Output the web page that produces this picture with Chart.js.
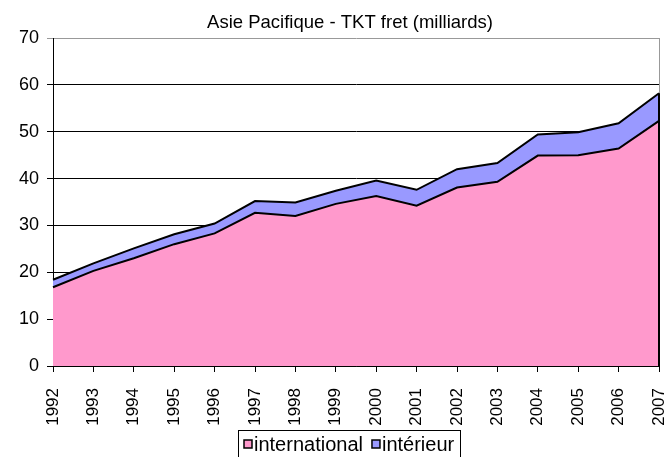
<!DOCTYPE html>
<html>
<head>
<meta charset="utf-8">
<script src="https://cdn.jsdelivr.net/npm/chart.js@4"></script>
<style>
  html, body { margin: 0; padding: 0; background: #fff; }
  #wrap { width: 670px; height: 457px; }
</style>
</head>
<body>
<div id="wrap"><canvas id="chart"></canvas></div>
<script>
let years = ['1992', '1993', '1994', '1995', '1996', '1997', '1998', '1999', '2000', '2001', '2002', '2003', '2004', '2005', '2006', '2007'];
let international = [16.8, 20.3, 23.0, 26.0, 28.3, 32.7, 32.0, 34.6, 36.3, 34.2, 38.1, 39.3, 44.9, 45.0, 46.4, 52.3];
let interieur = [1.6, 1.6, 2.1, 2.1, 2.1, 2.5, 2.9, 2.8, 3.3, 3.4, 3.9, 4.0, 4.5, 4.9, 5.4, 5.9];
let yTicks = [0, 10, 20, 30, 40, 50, 60, 70];
let titleText = 'Asie Pacifique - TKT fret (milliards)';

const FONT = 'Arial, "Liberation Sans", sans-serif';

// title, right frame and boxed legend drawn by hand, like the excel chart
const framePlugin = {
    id: 'frame',
    beforeDatasetsDraw(chart) {
        const ctx = chart.ctx, a = chart.chartArea;
        ctx.save();
        ctx.strokeStyle = '#999999';
        ctx.lineWidth = 1;
        ctx.beginPath();
        ctx.moveTo(a.right + 0.5, a.top);
        ctx.lineTo(a.right + 0.5, a.bottom);
        ctx.stroke();
        ctx.restore();
    },
    afterDatasetsDraw(chart) {
        const ctx = chart.ctx, y = chart.scales.y, x = chart.scales.x;
        const last = years.length - 1;
        const total = international[last] + interieur[last];
        ctx.save();
        ctx.strokeStyle = '#000';
        ctx.lineWidth = 2;
        ctx.beginPath();
        ctx.moveTo(x.getPixelForValue(last), y.getPixelForValue(0));
        ctx.lineTo(x.getPixelForValue(last), y.getPixelForValue(total));
        ctx.stroke();
        ctx.restore();
    },
    afterDraw(chart) {
        const ctx = chart.ctx;
        const cx = 350;
        ctx.save();
        // title
        ctx.fillStyle = '#000';
        ctx.font = '18.5px ' + FONT;
        ctx.textAlign = 'center';
        ctx.textBaseline = 'alphabetic';
        ctx.fillText(titleText, cx, 28);
        // legend
        ctx.font = '20px ' + FONT;
        ctx.textAlign = 'left';
        ctx.textBaseline = 'middle';
        const ds = chart.data.datasets;
        const sq = 8, gap = 2, itemGap = 9, pad = 6;
        const widths = ds.map(d => ctx.measureText(d.label).width);
        let total = 0;
        widths.forEach((w, i) => { total += sq + gap + w + (i ? itemGap : 0); });
        let lx = Math.round(cx - 1 - total / 2);
        const ly = 444;
        ctx.fillStyle = '#fff';
        ctx.fillRect(lx - pad, 430, Math.round(total + pad * 2), 40);
        ctx.strokeStyle = '#000';
        ctx.lineWidth = 1;
        ctx.strokeRect(lx - pad + 0.5, 430.5, Math.round(total + pad * 2), 40);
        ds.forEach((d, i) => {
            ctx.fillStyle = d.backgroundColor;
            ctx.fillRect(lx, ly - sq / 2, sq, sq);
            ctx.lineWidth = 1.5;
            ctx.strokeRect(lx, ly - sq / 2, sq, sq);
            ctx.fillStyle = '#000';
            ctx.fillText(d.label, lx + sq + gap, ly + 1);
            lx += sq + gap + widths[i] + itemGap;
        });
        ctx.restore();
    }
};

new Chart(document.getElementById('chart'), {
    type: 'line',
    data: {
        labels: years,
        datasets: [{
            label: 'international',
            data: international,
            backgroundColor: '#FF99CC',
            borderColor: '#000',
            borderWidth: 2,
            fill: 'origin',
            pointRadius: 0,
            tension: 0
        }, {
            label: 'intérieur',
            data: interieur,
            backgroundColor: '#9999FF',
            borderColor: '#000',
            borderWidth: 2,
            fill: '-1',
            pointRadius: 0,
            tension: 0
        }]
    },
    options: {
        responsive: true,
        maintainAspectRatio: false,
        animation: false,
        layout: { padding: { left: 0, right: 11, top: 38, bottom: 0 } },
        plugins: {
            title: { display: false },
            legend: { display: false },
            tooltip: { enabled: false }
        },
        scales: {
            x: {
                offset: false,
                grid: { display: true, drawOnChartArea: false, drawTicks: true, tickLength: 6, color: '#000' },
                border: { color: '#000', width: 1 },
                ticks: {
                    color: '#000',
                    font: { family: FONT, size: 17 },
                    minRotation: 90,
                    maxRotation: 90,
                    autoSkip: false,
                    padding: 16
                },
                afterFit(scale) {
                    scale.height = 91;
                    scale.paddingLeft = 0;
                    scale.paddingRight = 0;
                }
            },
            y: {
                stacked: true,
                min: 0,
                max: 70,
                afterBuildTicks(scale) { scale.ticks = yTicks.map(v => ({ value: v })); },
                grid: {
                    color: ctx => ctx.tick && ctx.tick.value === 70 ? '#999999' : '#000',
                    lineWidth: 1,
                    tickLength: 6,
                    drawTicks: true
                },
                border: { color: '#000', width: 1 },
                ticks: {
                    color: '#000',
                    font: { family: FONT, size: 18 },
                    padding: 8
                },
                afterFit(scale) { scale.width = 53; }
            }
        }
    },
    plugins: [framePlugin]
});
</script>
</body>
</html>
